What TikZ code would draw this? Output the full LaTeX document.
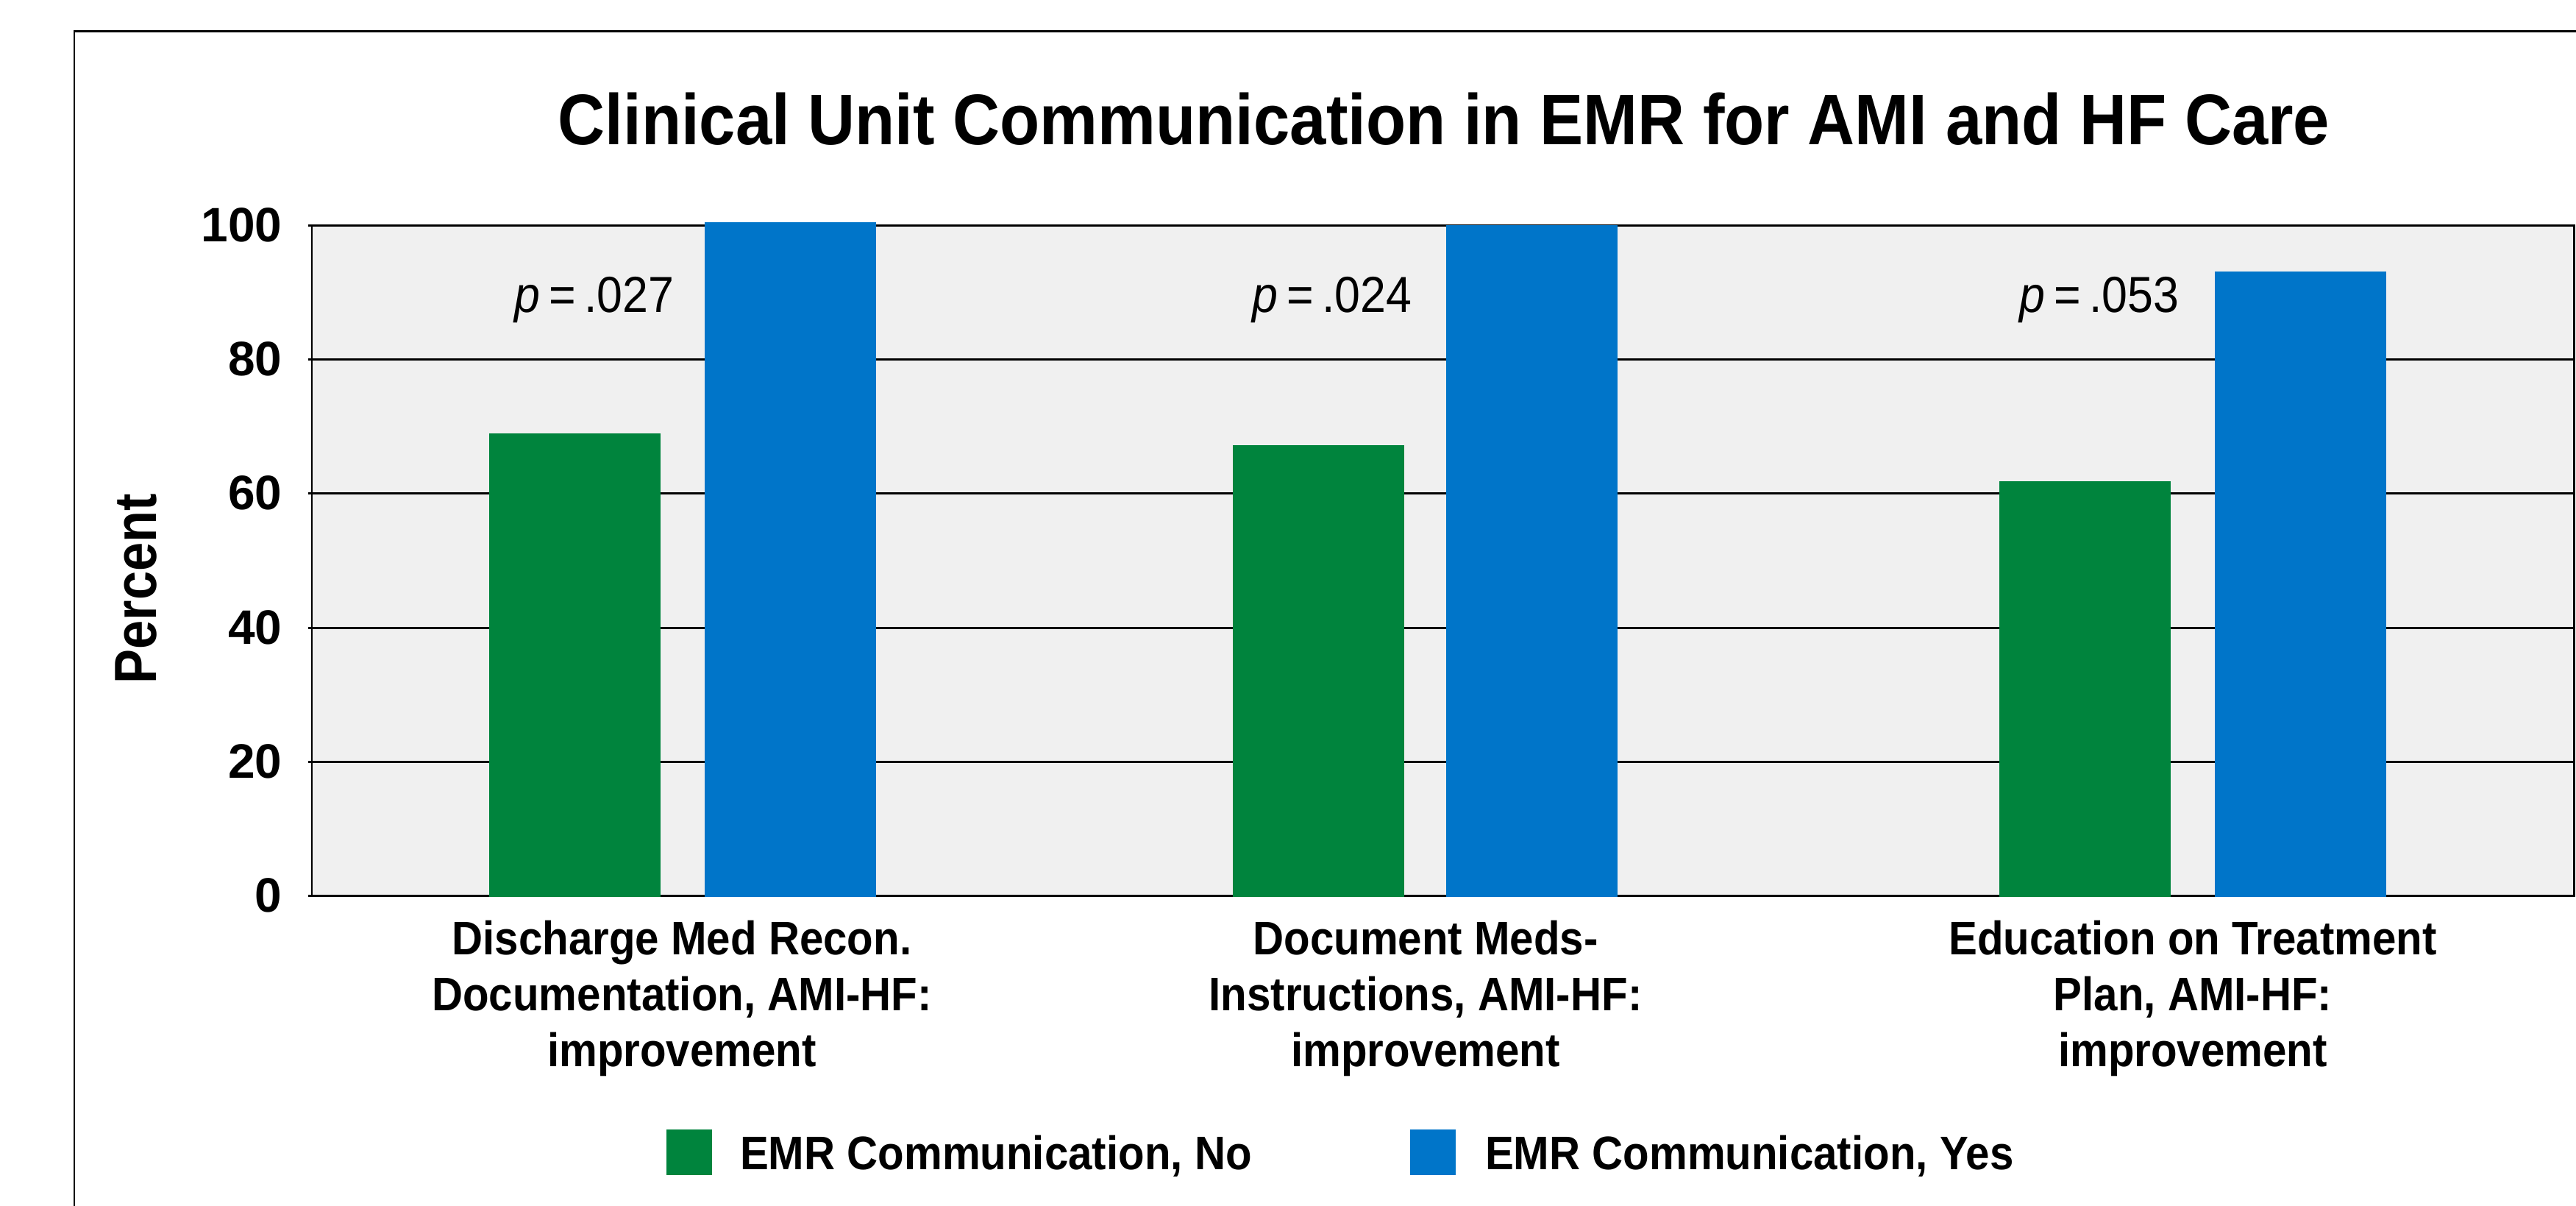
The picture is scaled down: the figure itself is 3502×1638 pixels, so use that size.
\documentclass[tikz,border=0pt]{standalone}
\usepackage{fontspec}
\setmainfont{Liberation Sans}
\newfontfamily\condfont[FakeStretch=0.91]{Liberation Sans}
\newfontfamily\pctfont[FakeStretch=0.87]{Liberation Sans}
\usetikzlibrary{positioning}

\definecolor{emrno}{RGB}{0,132,61}
\definecolor{emryes}{RGB}{0,117,201}
\definecolor{plotbg}{RGB}{240,240,240}

\begin{document}
\begin{tikzpicture}[x=0.01cm, y=-0.01cm, line width=0.85pt,
        every node/.style={inner sep=0pt},
        ticklab/.style={anchor=east, font=\fontsize{18.7}{22}\selectfont\bfseries},
        catlab/.style={anchor=north, align=center, font=\condfont\fontsize{18.2}{21.6}\selectfont\bfseries},
        pval/.style={anchor=base east, font=\condfont\fontsize{19.6}{23}\selectfont},
        legbox/.style={minimum size=0.62cm},
        legtext/.style={text depth=0pt, font=\condfont\fontsize{18.2}{21.6}\selectfont\bfseries}]
        \useasboundingbox (0,0) rectangle (3502,1638);

        % frame and title
        \draw (3510,42) -- (101,42) -- (101,1650);
        \node (title) [anchor=base, font=\condfont\fontsize{27.7}{33}\selectfont\bfseries] at (1963,196) {Clinical Unit Communication in EMR for AMI and HF Care};

        % plot area
        \fill[plotbg] (424,306) rectangle (3499,1217);
        \foreach \gy/\lab in {1217/0, 1035/20, 853/40, 670/60, 488/80, 306/100} {
            \draw (419,\gy) -- (3499,\gy);
            \node (tick\lab) [ticklab] at (385,\gy) {\lab};
        }
        \draw (424,306) rectangle (3499,1217);
        \node (ylab) [rotate=90, anchor=base, font=\pctfont\fontsize{23}{27}\selectfont\bfseries] at (212,800) {Percent};

        % bars
        \fill[emrno] (665,1219) rectangle (898,589);
        \fill[emryes] (958,1219) rectangle (1191,302);
        \fill[emrno] (1676,1219) rectangle (1909,605);
        \fill[emryes] (1966,1219) rectangle (2199,306);
        \fill[emrno] (2718,1219) rectangle (2951,654);
        \fill[emryes] (3011,1219) rectangle (3244,369);

        \node (pOne) [pval] at (918,424) {\textit{p}\,=\,.027};
        \node (pTwo) [pval] at (1921,424) {\textit{p}\,=\,.024};
        \node (pThree) [pval] at (2964,424) {\textit{p}\,=\,.053};

        \node (catOne) [catlab] at (927,1250) {Discharge Med Recon.\\Documentation, AMI-HF:\\improvement};
        \node (catTwo) [catlab] at (1938,1250) {Document Meds-\\Instructions, AMI-HF:\\improvement};
        \node (catThree) [catlab] at (2981,1250) {Education on Treatment\\Plan, AMI-HF:\\improvement};

        % legend
        \node (noBox) [legbox, fill=emrno] at (937,1566) {};
        \node (noText) [legtext, right=0.35cm of noBox] {EMR Communication, No};
        \node (yesBox) [legbox, fill=emryes] at (1948,1566) {};
        \node (yesText) [legtext, right=0.37cm of yesBox] {EMR Communication, Yes};
    \end{tikzpicture}
\end{document}
